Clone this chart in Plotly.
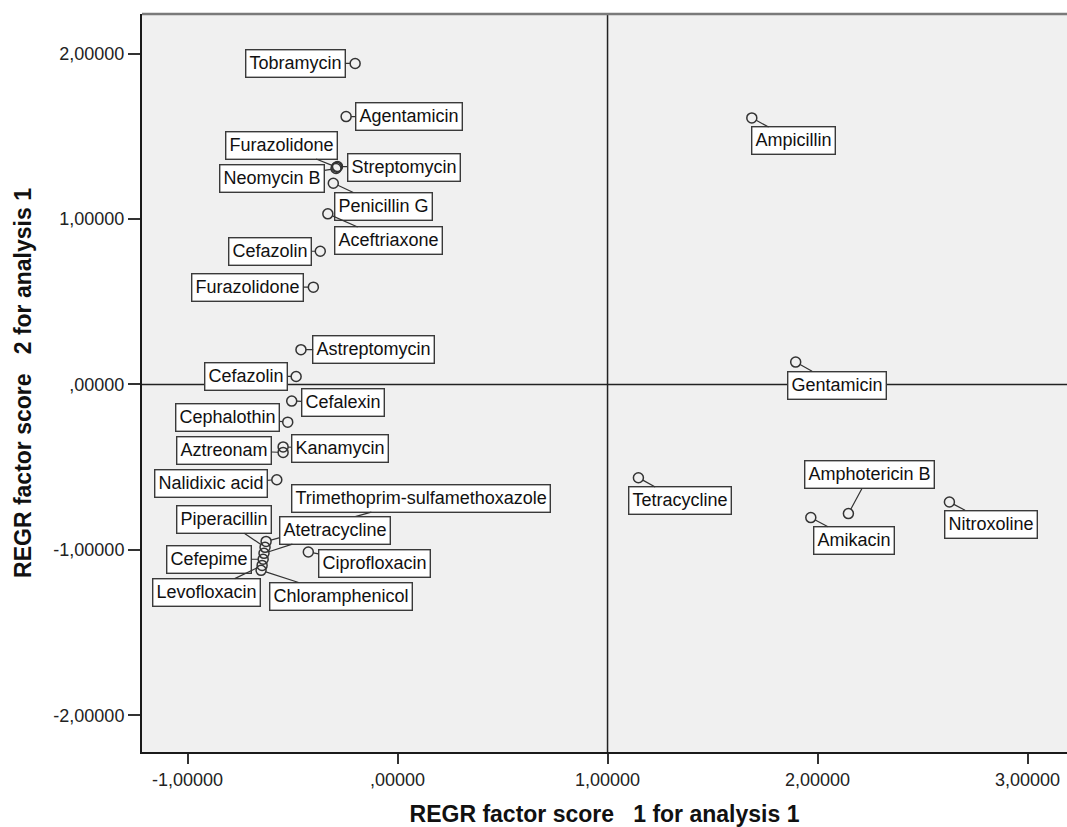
import plotly.graph_objects as go

# Factor scores (regression method) for each antimicrobial agent
drugs = [
    "Tobramycin", "Agentamicin", "Furazolidone", "Streptomycin", "Neomycin B",
    "Penicillin G", "Aceftriaxone", "Cefazolin", "Furazolidone", "Astreptomycin",
    "Cefazolin", "Cefalexin", "Cephalothin", "Kanamycin", "Aztreonam",
    "Nalidixic acid", "Trimethoprim-sulfamethoxazole", "Piperacillin", "Atetracycline",
    "Cefepime", "Levofloxacin", "Chloramphenicol", "Ciprofloxacin", "Ampicillin",
    "Gentamicin", "Tetracycline", "Amphotericin B", "Amikacin", "Nitroxoline",
]
factor1 = [
    -0.202, -0.245, -0.290, -0.286, -0.293,
    -0.306, -0.332, -0.368, -0.401, -0.460,
    -0.483, -0.504, -0.523, -0.545, -0.545,
    -0.575, -0.626, -0.631, -0.636,
    -0.640, -0.645, -0.650, -0.425, 1.687,
    1.896, 1.147, 2.147, 1.968, 2.628,
]
factor2 = [
    1.940, 1.619, 1.313, 1.317, 1.305,
    1.216, 1.031, 0.805, 0.588, 0.210,
    0.048, -0.101, -0.228, -0.378, -0.411,
    -0.576, -0.949, -0.985, -1.021,
    -1.057, -1.094, -1.124, -1.013, 1.611,
    0.135, -0.564, -0.781, -0.805, -0.711,
]

# Axis ticks and reference lines
tick_vals_x = [-1, 0, 1, 2, 3]
tick_text_x = ["-1,00000", ",00000", "1,00000", "2,00000", "3,00000"]
tick_vals_y = [-2, -1, 0, 1, 2]
tick_text_y = ["-2,00000", "-1,00000", ",00000", "1,00000", "2,00000"]
ref_x = 1.0
ref_y = 0.0

# Pixel offsets of each label box centre from its point (layout only)
label_dx = [-60, 63, -55, 66, -64, 50, 61, -50, -66, 73, -50, 51, -60, 57, -59,
            -66, 155, -41, 71, -54, -56, 80, 66, 42, 41, 42, 21, 43, 42]
label_dy = [0, 0, -22, 1, 10, 23, 27, 0, 0, 0, 0, 1, -5, 2, -2,
            4, -43, -28, -23, 0, 27, 26, 12, 23, 23, 23, -39, 23, 22]

FONT = "Liberation Sans, Arial, sans-serif"

fig = go.Figure()
fig.add_trace(go.Scatter(
    x=factor1, y=factor2, mode="markers",
    marker=dict(symbol="circle-open", size=10, color="#333333",
                line=dict(width=1.5, color="#333333")),
    text=drugs, hoverinfo="text", showlegend=False,
))

annotations = []
for name, xv, yv, dx, dy in zip(drugs, factor1, factor2, label_dx, label_dy):
    annotations.append(dict(
        x=xv, y=yv, xref="x", yref="y", text=name,
        showarrow=True, ax=dx, ay=dy, axref="pixel", ayref="pixel",
        arrowhead=0, arrowwidth=1.2, arrowcolor="#333333", standoff=5,
        bgcolor="white", bordercolor="#3a3a3a", borderwidth=1.4, borderpad=3,
        font=dict(family=FONT, size=18, color="#111111"),
    ))

shapes = [
    dict(type="line", xref="x", yref="paper", x0=ref_x, x1=ref_x, y0=0, y1=1,
         line=dict(color="#222222", width=1.5)),
    dict(type="line", xref="paper", yref="y", x0=0, x1=1, y0=ref_y, y1=ref_y,
         line=dict(color="#222222", width=1.5)),
    dict(type="line", xref="paper", yref="paper", x0=0, x1=1, y0=1, y1=1,
         line=dict(color="#7a7a7a", width=2.5)),
]

fig.update_layout(
    width=1067, height=827,
    margin=dict(l=142, r=0, t=14, b=75),
    paper_bgcolor="white", plot_bgcolor="#f0f0f0",
    font=dict(family=FONT, color="#222222"),
    annotations=annotations, shapes=shapes,
    xaxis=dict(
        range=[-1.217, 3.188], tickvals=tick_vals_x, ticktext=tick_text_x,
        showgrid=False, zeroline=False, showline=True, linecolor="#1a1a1a", linewidth=2,
        ticks="outside", ticklen=10, tickwidth=1.5, tickcolor="#333333",
        tickfont=dict(family=FONT, size=18, color="#222222"),
        title=dict(text="<b>REGR factor score   1 for analysis 1</b>",
                   font=dict(family=FONT, size=23, color="#111111"), standoff=20),
    ),
    yaxis=dict(
        range=[-2.222, 2.239], tickvals=tick_vals_y, ticktext=tick_text_y,
        showgrid=False, zeroline=False, showline=True, linecolor="#1a1a1a", linewidth=2,
        ticks="outside", ticklen=12, tickwidth=1.5, tickcolor="#333333",
        tickfont=dict(family=FONT, size=18, color="#222222"),
        title=dict(text="<b>REGR factor score   2 for analysis 1</b>",
                   font=dict(family=FONT, size=23, color="#111111"), standoff=15),
    ),
)

fig.write_html("out.html")
